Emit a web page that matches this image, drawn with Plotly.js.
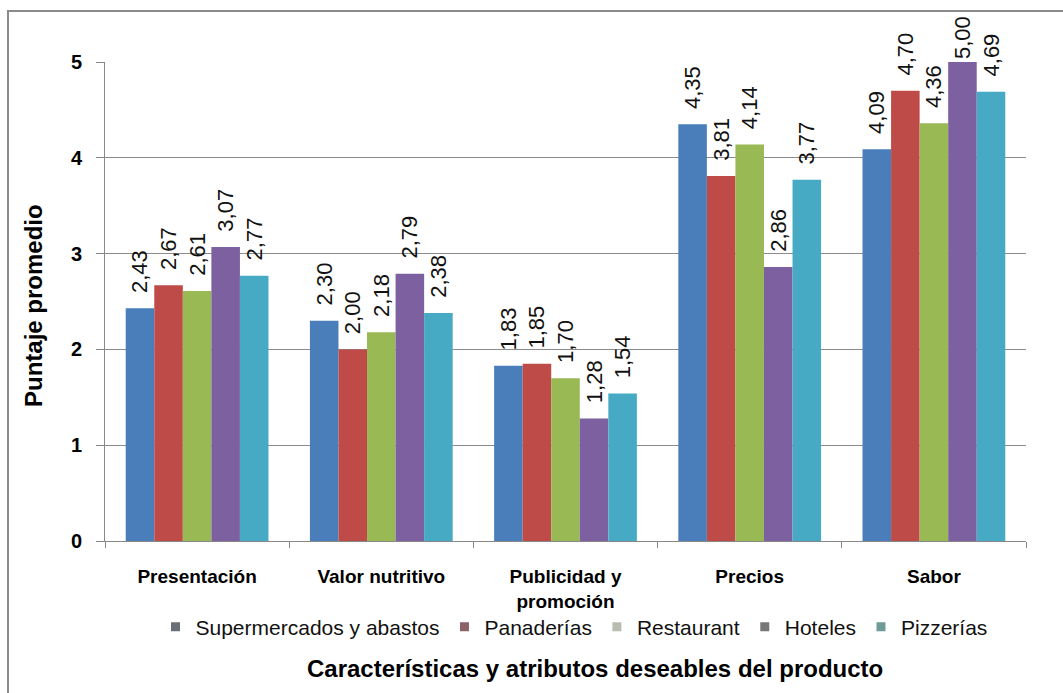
<!DOCTYPE html>
<html>
<head>
<meta charset="utf-8">
<script src="https://cdn.plot.ly/plotly-3.0.1.min.js"></script>
<style>
  html, body { margin: 0; padding: 0; background: #fff; }
  #chart { width: 1063px; height: 693px; }
</style>
</head>
<body>
<div id="chart"></div>
<script>
const categories = ["Presentación", "Valor nutritivo", "Publicidad y<br>promoción", "Precios", "Sabor"];
const seriesNames = ["Supermercados y abastos", "Panaderías", "Restaurant", "Hoteles", "Pizzerías"];
const supermercados = [2.43, 2.30, 1.83, 4.35, 4.09];
const panaderias    = [2.67, 2.00, 1.85, 3.81, 4.70];
const restaurant    = [2.61, 2.18, 1.70, 4.14, 4.36];
const hoteles       = [3.07, 2.79, 1.28, 2.86, 5.00];
const pizzerias     = [2.77, 2.38, 1.54, 3.77, 4.69];
const yTicks = [0, 1, 2, 3, 4, 5];

const seriesValues = [supermercados, panaderias, restaurant, hoteles, pizzerias];
const barColors = ["#4A7EBB", "#BE4B48", "#98B954", "#7D60A0", "#46AAC5"];
const legendColors = ["#6b6f75", "#8c6268", "#b9bdb0", "#777777", "#6f9a98"];
const yMax = yTicks[yTicks.length - 1];

const FONT = "Liberation Sans, Arial, sans-serif";
const traces = [];
seriesValues.forEach((vals, i) => {
  traces.push({
    type: "bar",
    name: seriesNames[i],
    x: categories,
    y: vals,
    marker: { color: barColors[i] },
    // leading spaces lift the label off the bar (as in the original); a label
    // at the top of the axis sits directly on its bar
    texttemplate: vals.map(v => v >= yMax ? "%{y:.2f}" : "\u00a0\u00a0%{y:.2f}"),
    textposition: "outside",
    textangle: -90,
    constraintext: "none",
    cliponaxis: false,
    textfont: { family: FONT, size: 22, color: "#111" },
    showlegend: false,
    hoverinfo: "x+y+name"
  });
});
seriesNames.forEach((n, i) => {
  traces.push({
    type: "scatter",
    mode: "markers",
    name: n,
    x: [null],
    y: [null],
    marker: { symbol: "square", size: 9, color: legendColors[i] },
    showlegend: true,
    hoverinfo: "skip"
  });
});

// pixel helpers for paper coordinates
const L = 105, R = 1026, T = 62, B = 541;
const px = p => (p - L) / (R - L);
const py = p => (B - p) / (B - T);

const layout = {
  width: 1063,
  height: 693,
  margin: { l: L, r: 1063 - R, t: T, b: 693 - B, autoexpand: false },
  paper_bgcolor: "#ffffff",
  plot_bgcolor: "#ffffff",
  separators: ",.",
  font: { family: FONT, color: "#000" },
  barmode: "group",
  bargap: 0.225,
  bargroupgap: 0,
  showlegend: true,
  legend: {
    orientation: "h",
    x: px(574), xanchor: "center",
    y: py(627), yanchor: "middle",
    font: { size: 21, color: "#111", family: FONT },
    bgcolor: "rgba(0,0,0,0)",
    itemclick: false
  },
  xaxis: {
    type: "category",
    showline: true,
    linecolor: "#888",
    linewidth: 1,
    ticks: "outside",
    tickson: "boundaries",
    ticklen: 6,
    tickcolor: "#888",
    ticklabelstandoff: 18,
    tickangle: 0,
    tickfont: { size: 19, color: "#000", family: FONT, weight: "bold" },
    showgrid: false,
    zeroline: false
  },
  yaxis: {
    range: [0, yMax],
    tickvals: yTicks,
    ticktext: yTicks.map(String),
    showline: true,
    linecolor: "#888",
    linewidth: 1,
    ticks: "outside",
    ticklen: 8,
    tickcolor: "#888",
    ticklabelstandoff: 10,
    tickfont: { size: 20, color: "#000", family: FONT, weight: "bold" },
    showgrid: true,
    gridcolor: "#8c8c8c",
    gridwidth: 1,
    zeroline: false
  },
  annotations: [
    {
      text: "<b>Puntaje promedio</b>",
      xref: "paper", yref: "paper",
      x: px(33), y: py(306),
      xanchor: "center", yanchor: "middle",
      textangle: -90,
      showarrow: false,
      font: { size: 24, color: "#000", family: FONT }
    },
    {
      text: "<b>Características y atributos deseables del producto</b>",
      xref: "paper", yref: "paper",
      x: px(595), y: py(668),
      xanchor: "center", yanchor: "middle",
      showarrow: false,
      font: { size: 24, color: "#000", family: FONT }
    }
  ],
  shapes: [
    {
      type: "rect", xref: "paper", yref: "paper",
      x0: px(8), x1: px(1075), y0: py(705), y1: py(11),
      line: { color: "#8a8a8a", width: 2 },
      fillcolor: "rgba(0,0,0,0)",
      layer: "below"
    }
  ]
};

Plotly.newPlot("chart", traces, layout, { displayModeBar: false, staticPlot: true });
</script>
</body>
</html>
